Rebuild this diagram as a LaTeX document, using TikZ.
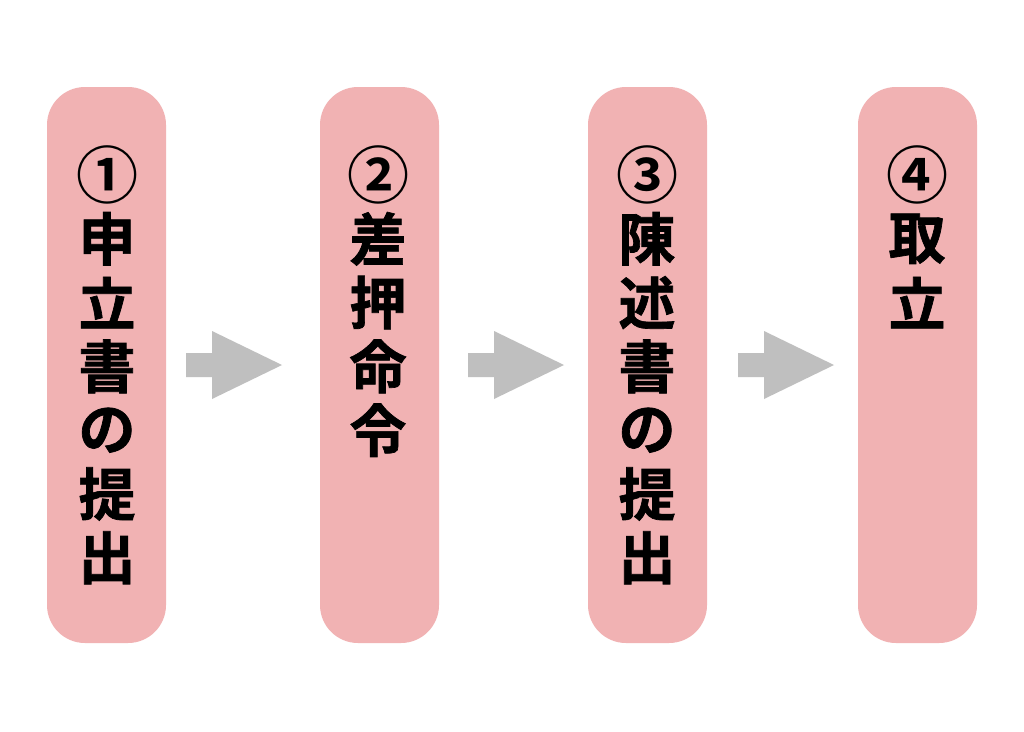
\documentclass[tikz,border=0pt]{standalone}
\usepackage{fontspec}
\newfontfamily\cjk{Noto Sans CJK JP}[UprightFont=* Bold,FakeBold=1.2]
\newfontfamily\cjknum{Noto Sans CJK JP}[UprightFont=* Bold]
\definecolor{boxpink}{RGB}{241,178,179}
\definecolor{arrowgray}{RGB}{191,191,191}
\begin{document}
\begin{tikzpicture}[x=1pt,y=-1pt,
  stepbox/.style={fill=boxpink,rounded corners=38pt},
  chr/.style={inner sep=0pt,font=\cjk\fontsize{57}{64}\selectfont},
  num/.style={inner sep=0pt,font=\cjknum\fontsize{62}{64}\selectfont},
  blockarrow/.style={fill=arrowgray}]
\useasboundingbox (0,0) rectangle (1024,731);
\fill[white] (0,0) rectangle (1024,731);
% boxes
\foreach \n/\xl in {1/47,2/320,3/588,4/858}{
  \fill[stepbox] (\xl,87) rectangle ++(119,556);
  \coordinate (b\n) at (\xl+59.5,365);
}
% circled numbers
\node[num] (na) at (107,175) {①};
\node[num] (nb) at (378,175) {②};
\node[num] (nc) at (647,175) {③};
\node[num] (nd) at (917,175) {④};
% texts
\foreach \c [count=\k] in {申,立,書,の,提,出}
  \node[chr] (ta\k) at (107,175+63.8*\k) {\c};
\foreach \c [count=\k] in {差,押,命,令}
  \node[chr] (tb\k) at (378,175+63.8*\k) {\c};
\foreach \c [count=\k] in {陳,述,書,の,提,出}
  \node[chr] (tc\k) at (647,175+63.8*\k) {\c};
\foreach \c [count=\k] in {取,立}
  \node[chr] (td\k) at (917,175+63.8*\k) {\c};
% arrows
\coordinate (a1) at (186,365);
\coordinate (a2) at (468,365);
\coordinate (a3) at (738,365);
\foreach \a in {a1,a2,a3}
  \fill[blockarrow] (\a) ++(0,-12) -- ++(26,0) -- ++(0,-22) -- ++(70,34)
     -- ++(-70,34) -- ++(0,-22) -- ++(-26,0) -- cycle;
\end{tikzpicture}
\end{document}
